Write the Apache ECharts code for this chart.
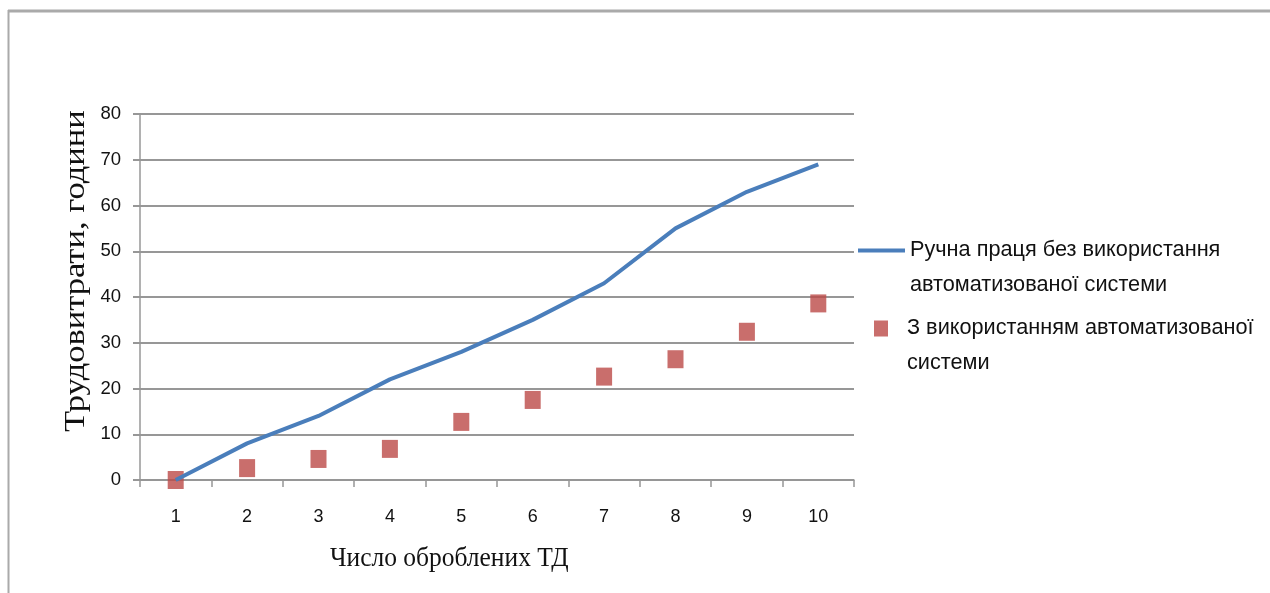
<!DOCTYPE html>
<html>
<head>
<meta charset="utf-8">
<script src="https://cdn.jsdelivr.net/npm/echarts@6/dist/echarts.min.js"></script>
<style>
html,body{margin:0;padding:0;background:#fff;}
#chart{width:1270px;height:593px;}
</style>
</head>
<body>
<div id="chart"></div>
<script>
const categories = ['1','2','3','4','5','6','7','8','9','10'];
const manualValues = [0, 8, 14, 22, 28, 35, 43, 55, 63, 69];
const autoValues = [0, 2.6, 4.6, 6.8, 12.7, 17.5, 22.6, 26.4, 32.4, 38.6];
const manualName = 'Ручна праця без використання\nавтоматизованої системи';
const autoName = 'З використанням автоматизованої\nсистеми';
const yAxisTitle = 'Трудовитрати, години';
const xAxisTitle = 'Число оброблених ТД';

const chart = echarts.init(document.getElementById('chart'), null, {renderer: 'canvas'});
const gridColor = '#979797';
const sans = 'Liberation Sans';
const serif = 'Liberation Serif';
const blue = '#4A7EBB';
const red = '#BC4A47';

const legendText = {fontFamily: sans, fontSize: 21.7, color: '#111', lineHeight: 35};

chart.setOption({
  animation: false,
  backgroundColor: '#ffffff',
  grid: {left: 140, top: 114, width: 714, height: 366, containLabel: false},
  xAxis: {
    type: 'category',
    data: categories,
    boundaryGap: true,
    axisLine: {show: true, lineStyle: {color: gridColor, width: 1.5}},
    axisTick: {show: true, length: 7, lineStyle: {color: gridColor, width: 1.5}},
    axisLabel: {margin: 28, fontFamily: sans, fontSize: 18, color: '#111'},
    splitLine: {show: false}
  },
  yAxis: {
    type: 'value',
    min: 0, max: 80, interval: 10,
    axisLine: {show: true, lineStyle: {color: gridColor, width: 1.5}},
    axisTick: {show: true, length: 7, lineStyle: {color: gridColor, width: 2}},
    axisLabel: {margin: 19, fontFamily: sans, fontSize: 18.5, color: '#111'},
    splitLine: {show: true, lineStyle: {color: gridColor, width: 2}}
  },
  legend: [
    {
      data: [{name: manualName, icon: 'path://M0,0h47v4h-47z'}],
      left: 858, top: 198,
      padding: 0,
      orient: 'vertical',
      itemWidth: 47, itemHeight: 4,
      itemGap: 0,
      selectedMode: false,
      formatter: function (n) { return ' \n' + n; },
      textStyle: legendText
    },
    {
      data: [{name: autoName, icon: 'path://M0,0h14v16h-14zM28,16'}],
      left: 874, top: 276,
      padding: 0,
      orient: 'vertical',
      itemWidth: 28, itemHeight: 16,
      itemGap: 0,
      selectedMode: false,
      formatter: function (n) { return ' \n' + n; },
      textStyle: legendText
    }
  ],
  graphic: [
    {type: 'rect', shape: {x: 8, y: 9.5, width: 1262, height: 3}, style: {fill: '#aaaaaa'}, silent: true},
    {type: 'rect', shape: {x: 7.5, y: 10, width: 2, height: 583}, style: {fill: '#aaaaaa'}, silent: true},
    {type: 'text', x: 61, y: 432, rotation: Math.PI / 2, scaleY: 0.87,
      style: {text: yAxisTitle, fontFamily: serif, fontSize: 34.5, fill: '#111',
        align: 'left', verticalAlign: 'top'}},
    {type: 'text', x: 330, y: 545, scaleX: 0.91,
      style: {text: xAxisTitle, fontFamily: serif, fontSize: 28, fill: '#111',
        align: 'left', verticalAlign: 'top'}}
  ],
  series: [
    {
      name: manualName,
      type: 'line',
      data: manualValues,
      symbol: 'none',
      smooth: false,
      lineStyle: {color: blue, width: 4},
      itemStyle: {color: blue}
    },
    {
      name: autoName,
      type: 'scatter',
      data: autoValues,
      symbol: 'rect',
      symbolSize: [16, 18],
      itemStyle: {color: red}
    }
  ]
});
</script>
</body>
</html>
